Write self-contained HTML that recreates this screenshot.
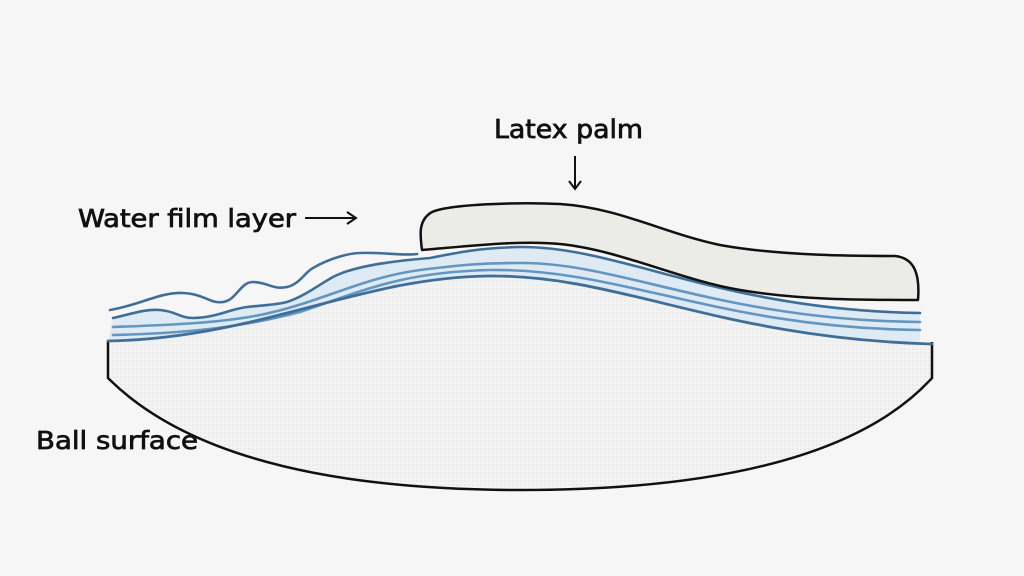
<!DOCTYPE html>
<html><head><meta charset="utf-8"><style>
html,body{margin:0;padding:0;background:#f6f6f6;}
svg{display:block}
text{font-family:"DejaVu Sans Condensed","DejaVu Sans","Liberation Sans",sans-serif;font-stretch:condensed;fill:#111;stroke:#111;stroke-width:0.7;}
</style></head><body>
<svg width="1024" height="576" viewBox="0 0 1024 576" xmlns="http://www.w3.org/2000/svg">
<rect width="1024" height="576" fill="#f6f6f6"/>
<defs>
<pattern id="dots" width="4" height="4" patternUnits="userSpaceOnUse">
<rect width="4" height="4" fill="#f3f3f3"/><circle cx="1" cy="1" r="0.6" fill="#d8d8d8"/>
</pattern>
</defs>
<path d="M108,341 C260,338 360,277 490,276 C620,275 720,338 932,344 L932,378 Q830,490 520,490 Q220,490 108,378 Z" fill="url(#dots)"/>
<path d="M108,341 L108,378 Q220,490 520,490 Q830,490 932,378 L932,342" fill="none" stroke="#111" stroke-width="2.5"/>
<path d="M113,318 C135,313 145,309 160,310 C175,311 180,318 193,318 C215,318 230,309 247,307 C265,305 275,305 287,302 C305,296 320,284 333,277 C350,268 380,262 430,258 C460,252 480,248 520,247 C620,246 720,310 920,313 L920,344 C720,338 620,275 490,276 C360,277 260,338 108,341 Z" fill="#d9e8f3" opacity="0.85"/>
<g fill="none" stroke-linecap="round">
<path d="M110,310 C140,305 160,292 183,293 C205,294 210,304 223,302 C237,300 240,282 253,282 C268,282 272,290 287,287 C300,284 305,272 313,268 C330,258 350,253 360,253 C385,252 400,256 417,254" stroke="#3f6f99" stroke-width="2.6"/>
<path d="M113,318 C135,313 145,309 160,310 C175,311 180,318 193,318 C215,318 230,309 247,307 C265,305 275,305 287,302 C305,296 320,284 333,277 C350,268 380,262 430,258 C460,252 480,248 520,247 C620,246 720,310 920,313" stroke="#3f6f99" stroke-width="2.6"/>
<path d="M113,327 C170,325 220,323 260,315 C320,303 360,278 420,270 C460,265 480,263 520,263 C620,262 720,320 920,322" stroke="#6496c0" stroke-width="2.6"/>
<path d="M113,335 C200,333 250,325 300,312 C360,292 400,272 490,270 C620,268 720,328 920,330" stroke="#6496c0" stroke-width="2.6"/>
<path d="M108,341 C260,338 360,277 490,276 C620,275 720,338 932,344" stroke="#3f6f99" stroke-width="2.8"/>
</g>
<path d="M422,250 C420,235 418,220 432,212 C450,204 520,202 560,204 C620,208 660,232 720,245 C780,256 860,256 895,256 C915,258 920,275 918,300 C860,300 800,300 740,290 C680,280 620,250 560,244 C520,240 470,246 422,250 Z" fill="#ebebe8" stroke="#111" stroke-width="2.5" stroke-linejoin="round"/>
<text x="494" y="138" font-size="26" textLength="149" lengthAdjust="spacingAndGlyphs">Latex palm</text>
<line x1="575" y1="156" x2="575" y2="188" stroke="#111" stroke-width="2"/>
<path d="M569,181 L575,189 L581,181" fill="none" stroke="#111" stroke-width="2"/>
<text x="78" y="227" font-size="25" textLength="218" lengthAdjust="spacingAndGlyphs">Water film layer</text>
<line x1="305" y1="218" x2="355" y2="218" stroke="#111" stroke-width="2"/>
<path d="M347,212 L356,218 L347,224" fill="none" stroke="#111" stroke-width="2"/>
<text x="36" y="449" font-size="25" textLength="162" lengthAdjust="spacingAndGlyphs">Ball surface</text>
</svg>
</body></html>
